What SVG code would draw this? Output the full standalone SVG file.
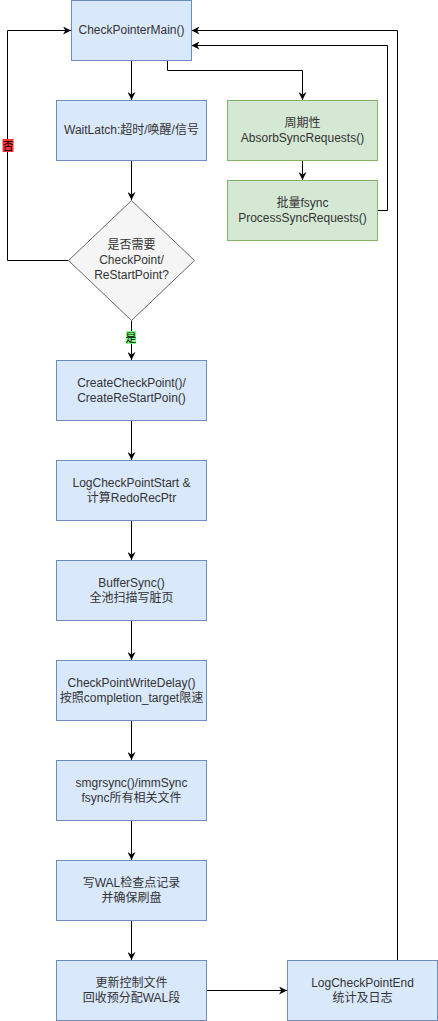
<svg xmlns="http://www.w3.org/2000/svg" width="438" height="1021" viewBox="0 0 438 1021">
<defs>
<style>
.b{fill:#dae8fc;stroke:#6c8ebf;stroke-width:1}
.g{fill:#d5e8d4;stroke:#82b366;stroke-width:1}
.d{fill:#f5f5f5;stroke:#666666;stroke-width:1}
.c{fill:none;stroke:#000;stroke-width:1}
text{font-family:"Liberation Sans",Arial,"Noto Sans CJK SC",sans-serif;font-size:12px;fill:#333333;text-anchor:middle;dominant-baseline:central}
.lbl{fill:#000;font-size:11px}
</style>
<marker id="a" viewBox="0 0 10 10" refX="10" refY="5" markerWidth="8" markerHeight="8" markerUnits="userSpaceOnUse" orient="auto">
<path d="M0,0 L10,5 L0,10 L3,5 z" fill="#000"/>
</marker>
</defs>
<rect width="438" height="1021" fill="#fff"/>
<g id="connectors">
<path class="c" d="M131.5,60.5 V100" marker-end="url(#a)"/>
<path class="c" d="M167.5,60.5 V70.5 H302.5 V100" marker-end="url(#a)"/>
<path class="c" d="M302.5,160.5 V180" marker-end="url(#a)"/>
<path class="c" d="M377.5,210.5 H387.5 V45.5 H191.5" marker-end="url(#a)"/>
<path class="c" d="M131.5,160.5 V200" marker-end="url(#a)"/>
<path class="c" d="M68.5,260.5 H7.5 V30.5 H71" marker-end="url(#a)"/>
<path class="c" d="M131.5,320.5 V360" marker-end="url(#a)"/>
<path class="c" d="M131.5,420.5 V460" marker-end="url(#a)"/>
<path class="c" d="M131.5,520.5 V560" marker-end="url(#a)"/>
<path class="c" d="M131.5,620.5 V660" marker-end="url(#a)"/>
<path class="c" d="M131.5,720.5 V760" marker-end="url(#a)"/>
<path class="c" d="M131.5,820.5 V860" marker-end="url(#a)"/>
<path class="c" d="M131.5,920.5 V960" marker-end="url(#a)"/>
<path class="c" d="M206.5,990.5 H287" marker-end="url(#a)"/>
<path class="c" d="M397.5,960.5 V30.5 H191.5" marker-end="url(#a)"/>
<rect x="2.5" y="139" width="11" height="13" fill="#ff3333"/>
<text class="lbl" x="8" y="145.5">否</text>
<rect x="126" y="331" width="10" height="13" fill="#80ff80"/>
<text class="lbl" x="131" y="337.5">是</text>
</g>
<g id="main">
<rect class="b" x="71.5" y="0.5" width="120" height="60"/>
<text x="131.5" y="30">CheckPointerMain()</text>
</g>
<g id="waitlatch">
<rect class="b" x="56.5" y="100.5" width="150" height="60"/>
<text x="131.5" y="130">WaitLatch:超时/唤醒/信号</text>
</g>
<g id="absorb">
<rect class="g" x="227.5" y="100.5" width="150" height="60"/>
<text x="302.5" y="123">周期性</text>
<text x="302.5" y="137.5">AbsorbSyncRequests()</text>
</g>
<g id="process">
<rect class="g" x="227.5" y="180.5" width="150" height="60"/>
<text x="302.5" y="203">批量fsync</text>
<text x="302.5" y="217.5">ProcessSyncRequests()</text>
</g>
<g id="decision">
<path class="d" d="M131.5,200.5 L194.5,260.5 L131.5,320.5 L68.5,260.5 Z"/>
<text x="131.5" y="245">是否需要</text>
<text x="131.5" y="260">CheckPoint/</text>
<text x="131.5" y="275">ReStartPoint?</text>
</g>
<g id="create">
<rect class="b" x="56.5" y="360.5" width="150" height="60"/>
<text x="131.5" y="383">CreateCheckPoint()/</text>
<text x="131.5" y="398">CreateReStartPoin()</text>
</g>
<g id="logstart">
<rect class="b" x="56.5" y="460.5" width="150" height="60"/>
<text x="131.5" y="483">LogCheckPointStart &amp;</text>
<text x="131.5" y="498">计算RedoRecPtr</text>
</g>
<g id="buffersync">
<rect class="b" x="56.5" y="560.5" width="150" height="60"/>
<text x="131.5" y="583">BufferSync()</text>
<text x="131.5" y="598">全池扫描写脏页</text>
</g>
<g id="writedelay">
<rect class="b" x="56.5" y="660.5" width="150" height="60"/>
<text x="131.5" y="683">CheckPointWriteDelay()</text>
<text x="131.5" y="698">按照completion_target限速</text>
</g>
<g id="smgrsync">
<rect class="b" x="56.5" y="760.5" width="150" height="60"/>
<text x="131.5" y="783">smgrsync()/immSync</text>
<text x="131.5" y="798">fsync所有相关文件</text>
</g>
<g id="walrecord">
<rect class="b" x="56.5" y="860.5" width="150" height="60"/>
<text x="131.5" y="883">写WAL检查点记录</text>
<text x="131.5" y="898">并确保刷盘</text>
</g>
<g id="controlfile">
<rect class="b" x="56.5" y="960.5" width="150" height="60"/>
<text x="131.5" y="983">更新控制文件</text>
<text x="131.5" y="998">回收预分配WAL段</text>
</g>
<g id="logend">
<rect class="b" x="287.5" y="960.5" width="150" height="60"/>
<text x="362.5" y="983">LogCheckPointEnd</text>
<text x="362.5" y="998">统计及日志</text>
</g>
</svg>
